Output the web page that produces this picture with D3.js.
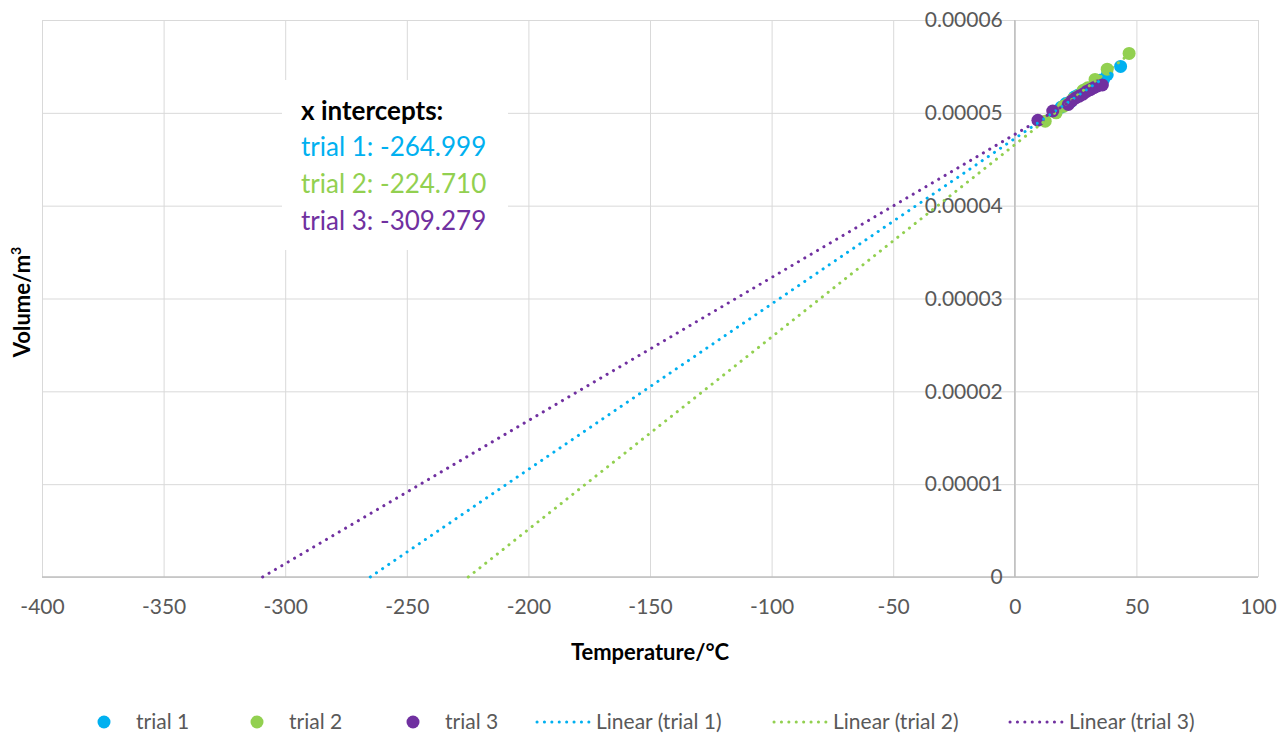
<!DOCTYPE html>
<html>
<head>
<meta charset="utf-8">
<script src="https://cdn.jsdelivr.net/npm/d3@7"></script>
<style>
  body { margin: 0; background: #fff; }
  text { font-family: Lato, "Open Sans", sans-serif; }
</style>
</head>
<body>
<script>
// data
const seriesNames = ["trial 1", "trial 2", "trial 3"];
const colors = ["#00B0F0", "#92D050", "#7030A0"];
const intercepts = [-264.999, -224.710, -309.279];

const trial1Temp = [19, 21, 23, 24.5, 26, 27.5, 29, 30.5, 32, 33.5, 35, 36.5, 38, 43.5];
const trial1Vol = [5.06, 5.10, 5.12, 5.17, 5.19, 5.21, 5.25, 5.26, 5.28, 5.33, 5.35, 5.36, 5.41, 5.50];
const trial2Temp = [12.5, 17, 20, 22, 24, 26, 28, 30, 33, 38, 47];
const trial2Vol = [4.91, 5.00, 5.07, 5.10, 5.15, 5.18, 5.24, 5.27, 5.36, 5.47, 5.64];
const trial3Temp = [9.5, 15.6, 22, 23.5, 25, 26.5, 28, 29.5, 31, 32.5, 34, 36];
const trial3Vol = [4.92, 5.02, 5.09, 5.13, 5.16, 5.18, 5.20, 5.23, 5.25, 5.27, 5.29, 5.30];

const xTicks = [-400, -350, -300, -250, -200, -150, -100, -50, 0, 50, 100];
const yTicks = [0, 0.00001, 0.00002, 0.00003, 0.00004, 0.00005, 0.00006];

const width = 1286, height = 736;
const svg = d3.select("body").append("svg")
    .attr("width", width)
    .attr("height", height);

const x = d3.scaleLinear().domain([-400, 100]).range([42, 1258]);
const y = d3.scaleLinear().domain([0, 0.00006]).range([577, 20]);

// Excel style minus is a plain hyphen
const fmtNum = d => String(d).replace("\u2212", "-");

// 把每组数据拼起来 (volume values are in 1e-5 m3)
const temps = [trial1Temp, trial2Temp, trial3Temp];
const vols = [trial1Vol, trial2Vol, trial3Vol];
const series = temps.map((t, i) => ({
    name: seriesNames[i],
    color: colors[i],
    icpt: intercepts[i],
    points: t.map((tx, j) => ({ t: tx, v: vols[i][j] * 1e-5 }))
}));

// gridlines
svg.append("g")
    .attr("transform", "translate(0,577)")
    .call(d3.axisBottom(x).tickValues(xTicks).tickSize(-557).tickFormat(""))
    .call(g => g.select(".domain").remove())
    .call(g => g.selectAll("line").attr("stroke", "#d9d9d9"));

svg.append("g")
    .attr("transform", "translate(42,0)")
    .call(d3.axisLeft(y).tickValues(yTicks).tickSize(-1216).tickFormat(""))
    .call(g => g.select(".domain").remove())
    .call(g => g.selectAll("line").attr("stroke", "#d9d9d9"));

// axis lines
svg.append("line")
    .attr("x1", x(-400)).attr("x2", x(100))
    .attr("y1", y(0)).attr("y2", y(0))
    .attr("stroke", "#bfbfbf").attr("stroke-width", 1.5);
svg.append("line")
    .attr("x1", x(0)).attr("x2", x(0))
    .attr("y1", y(0)).attr("y2", y(0.00006))
    .attr("stroke", "#bfbfbf").attr("stroke-width", 1.5);

// tick labels
svg.append("g")
    .attr("transform", "translate(0,577)")
    .call(d3.axisBottom(x).tickValues(xTicks).tickSize(0).tickPadding(22).tickFormat(fmtNum))
    .call(g => g.select(".domain").remove())
    .call(g => g.selectAll("text")
        .attr("font-family", "Lato, sans-serif")
        .attr("font-size", 21)
        .attr("fill", "#595959"));

svg.append("g")
    .attr("transform", `translate(${x(0) - 9},0)`)
    .call(d3.axisLeft(y).tickValues(yTicks).tickSize(0)
        .tickFormat(d => d === 0 ? "0" : d3.format(".5f")(d)))
    .call(g => g.select(".domain").remove())
    .call(g => g.selectAll("text")
        .attr("font-family", "Lato, sans-serif")
        .attr("font-size", 21)
        .attr("fill", "#595959"));

// markers
series.forEach(s => {
    svg.append("g").selectAll("circle")
        .data(s.points)
        .enter().append("circle")
        .attr("cx", d => x(d.t))
        .attr("cy", d => y(d.v))
        .attr("r", 6.5)
        .attr("fill", s.color);
});

// trendlines: from stated x intercept through the data centroid, up to last point
series.forEach(s => {
    const mt = d3.mean(s.points, d => d.t);
    const mv = d3.mean(s.points, d => d.v);
    const slope = mv / (mt - s.icpt);
    const tMax = d3.max(s.points, d => d.t);
    const ends = [s.icpt, tMax].map(t => ({ t: t, v: slope * (t - s.icpt) }));
    svg.append("path")
        .datum(ends)
        .attr("d", d3.line().x(d => x(d.t)).y(d => y(d.v)))
        .attr("fill", "none")
        .attr("stroke", s.color)
        .attr("stroke-width", 3)
        .attr("stroke-linecap", "round")
        .attr("stroke-dasharray", "0.1 7.3");
});

// intercept text box
const box = svg.append("g").attr("transform", "translate(282,80)");
box.append("rect")
    .attr("width", 226).attr("height", 170)
    .attr("fill", "#fff");
box.append("text")
    .attr("x", 19).attr("y", 40)
    .attr("font-size", 26).attr("font-weight", "bold")
    .attr("fill", "#000")
    .text("x intercepts:");
series.forEach((s, i) => {
    box.append("text")
        .attr("x", 19).attr("y", 76 + i * 37)
        .attr("font-size", 26)
        .attr("fill", s.color)
        .text(s.name + ": " + fmtNum(d3.format(".3f")(s.icpt)));
});

// axis titles
svg.append("text")
    .attr("x", 650).attr("y", 660)
    .attr("text-anchor", "middle")
    .attr("font-size", 22).attr("font-weight", "bold")
    .attr("fill", "#000")
    .text("Temperature/°C");

const yTitle = svg.append("text")
    .attr("transform", "translate(30,302) rotate(-90)")
    .attr("text-anchor", "middle")
    .attr("font-size", 22).attr("font-weight", "bold")
    .attr("fill", "#000");
yTitle.append("tspan").text("Volume/m");
yTitle.append("tspan").attr("dy", -9).attr("font-size", 14).text("3");

// legend
const legendItems = [
    { label: "trial 1", color: colors[0], type: "dot", x: 104 },
    { label: "trial 2", color: colors[1], type: "dot", x: 257 },
    { label: "trial 3", color: colors[2], type: "dot", x: 413 },
    { label: "Linear (trial 1)", color: colors[0], type: "line", x: 537 },
    { label: "Linear (trial 2)", color: colors[1], type: "line", x: 774 },
    { label: "Linear (trial 3)", color: colors[2], type: "line", x: 1010 }
];
const lg = svg.append("g").attr("transform", "translate(0,722)");
legendItems.forEach(d => {
    if (d.type === "dot") {
        lg.append("circle").attr("cx", d.x).attr("cy", 0).attr("r", 6.5).attr("fill", d.color);
        lg.append("text").attr("x", d.x + 32).attr("y", 0).attr("dy", "0.35em")
            .attr("font-size", 21).attr("fill", "#595959").text(d.label);
    } else {
        lg.append("line").attr("x1", d.x).attr("x2", d.x + 52).attr("y1", 0).attr("y2", 0)
            .attr("stroke", d.color).attr("stroke-width", 3)
            .attr("stroke-linecap", "round").attr("stroke-dasharray", "0.1 7.3");
        lg.append("text").attr("x", d.x + 59).attr("y", 0).attr("dy", "0.35em")
            .attr("font-size", 21).attr("fill", "#595959").text(d.label);
    }
});
</script>
</body>
</html>
